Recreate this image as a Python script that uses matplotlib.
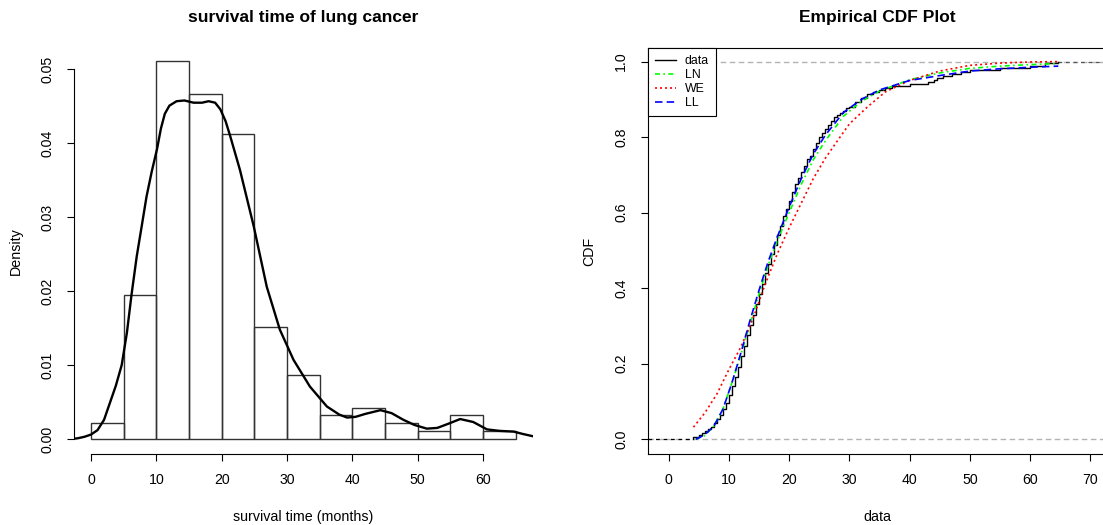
import matplotlib.pyplot as plt
from matplotlib.ticker import FormatStrFormatter

plt.rcParams['font.family'] = ['Liberation Sans', 'DejaVu Sans']

# histogram of survival time (density scale, 5-month bins)
bin_edges = [0, 5, 10, 15, 20, 25, 30, 35, 40, 45, 50, 55, 60, 65]
bin_density = [0.0022, 0.0195, 0.0511, 0.0467, 0.0412, 0.0152, 0.0087,
               0.0032, 0.0042, 0.0022, 0.0011, 0.0032, 0.0011]

# kernel density curve
kde_x = [-3.0, -2.0, -1.0, 0.0, 1.0, 2.0, 2.9, 3.8, 4.7, 5.5, 6.2, 7.0, 7.8, 8.5,
         9.3, 10.1, 10.7, 11.3, 12.0, 13.1, 14.3, 15.7, 17.0, 18.0, 19.0, 19.8,
         20.6, 21.3, 22.8, 24.9, 26.9, 28.9, 31.0, 33.5, 36.1, 38.0, 39.2, 40.5,
         42.0, 44.3, 46.0, 47.8, 49.5, 51.4, 53.0, 54.8, 56.5, 58.5, 60.6, 62.5,
         64.7, 66.0, 68.0]
kde_y = [0.0, 0.0001, 0.0003, 0.0006, 0.0012, 0.0026, 0.0049, 0.0072, 0.0100,
         0.0144, 0.0195, 0.0247, 0.0290, 0.0328, 0.0362, 0.0392, 0.0420, 0.0440,
         0.0451, 0.0457, 0.0458, 0.0455, 0.0455, 0.0457, 0.0455, 0.0446, 0.0430,
         0.0410, 0.0364, 0.0288, 0.0206, 0.0148, 0.0107, 0.0071, 0.0044, 0.0033,
         0.0029, 0.0030, 0.0034, 0.0039, 0.0035, 0.0026, 0.0019, 0.0014, 0.0015,
         0.0021, 0.0027, 0.0023, 0.0013, 0.0011, 0.0010, 0.0007, 0.0003]

# empirical cdf steps
ecdf_x = [4.0, 5.0, 5.5, 6.0, 6.5, 7.0, 7.5, 8.0, 8.5, 9.0, 9.5, 10.0, 10.5, 11.0,
          11.5, 12.0, 12.5, 13.0, 13.5, 14.0, 14.5, 15.0, 15.5, 16.0, 16.5, 17.0,
          17.5, 18.0, 18.5, 19.0, 19.5, 20.0, 20.5, 21.0, 21.5, 22.0, 22.5, 23.0,
          23.5, 24.0, 24.5, 25.0, 25.5, 26.0, 26.5, 27.0, 27.5, 28.0, 28.5, 29.0,
          29.5, 30.0, 31.0, 32.0, 33.0, 34.0, 35.0, 36.0, 37.0, 40.0, 43.0, 44.0,
          44.5, 45.5, 47.0, 48.5, 50.0, 55.0, 60.0, 62.5, 64.7]
ecdf_y = [0.005, 0.011, 0.016, 0.022, 0.027, 0.033, 0.043, 0.054, 0.065, 0.080,
          0.097, 0.118, 0.140, 0.165, 0.192, 0.220, 0.248, 0.275, 0.302, 0.330,
          0.357, 0.385, 0.412, 0.440, 0.465, 0.490, 0.515, 0.540, 0.565, 0.590,
          0.611, 0.632, 0.654, 0.676, 0.692, 0.708, 0.724, 0.741, 0.751, 0.768,
          0.784, 0.800, 0.811, 0.822, 0.832, 0.843, 0.854, 0.859, 0.865, 0.870,
          0.876, 0.881, 0.892, 0.903, 0.914, 0.919, 0.924, 0.930, 0.935, 0.941,
          0.946, 0.951, 0.957, 0.962, 0.968, 0.973, 0.978, 0.984, 0.989, 0.995, 1.0]

# fitted cdfs
fit_x = [4.5, 6, 7.5, 9, 10.5, 12, 13.5, 15, 16.5, 18, 20, 22, 24, 26, 29, 32, 35,
         40, 45, 50, 55, 60, 64.7]
ln_y = [0.0, 0.01, 0.035, 0.08, 0.15, 0.225, 0.305, 0.385, 0.46, 0.525, 0.60, 0.675,
        0.74, 0.79, 0.855, 0.895, 0.922, 0.952, 0.970, 0.982, 0.988, 0.992, 0.995]
ll_y = [0.0, 0.012, 0.035, 0.08, 0.15, 0.23, 0.315, 0.395, 0.47, 0.535, 0.615, 0.69,
        0.755, 0.805, 0.865, 0.90, 0.925, 0.95, 0.963, 0.975, 0.981, 0.985, 0.988]
we_x = [4.1, 6, 8, 10, 12, 14, 16, 18, 20, 22, 24, 26, 28, 30, 33, 36, 40, 45, 50,
        55, 60, 64.7]
we_y = [0.032, 0.07, 0.12, 0.185, 0.245, 0.32, 0.41, 0.49, 0.56, 0.625, 0.69, 0.744,
        0.79, 0.835, 0.88, 0.92, 0.95, 0.975, 0.99, 0.996, 0.999, 1.0]

W, H = 1103, 525
fig = plt.figure(figsize=(W / 100, H / 100), dpi=100)

tick_kw = dict(direction='out', length=5, width=0.8, pad=9, labelsize=10.2)

# ---- left: histogram
ax1 = fig.add_axes([74 / W, 1 - 454 / H, 458.5 / W, 406 / H])
ax1.bar(bin_edges[:-1], bin_density, width=5, align='edge', fill=False,
        edgecolor='#333333', linewidth=1)
ax1.plot(kde_x, kde_y, color='black', lw=1.7)
ax1.set_xlim(-2.6, 67.57)
ax1.set_ylim(-0.00203, 0.0529)
for s in ['top', 'right']:
    ax1.spines[s].set_visible(False)
ax1.spines['left'].set_bounds(0, 0.05)
ax1.spines['bottom'].set_bounds(0, 60)
for s in ['left', 'bottom']:
    ax1.spines[s].set_linewidth(0.8)
ax1.set_xticks(range(0, 61, 10))
ax1.set_yticks([0, 0.01, 0.02, 0.03, 0.04, 0.05])
ax1.yaxis.set_major_formatter(FormatStrFormatter('%.2f'))
ax1.tick_params(**tick_kw)
ax1.tick_params(axis='y', labelrotation=90)
plt.setp(ax1.get_yticklabels(), va='center')
ax1.set_title('survival time of lung cancer', fontsize=12.5, fontweight='bold', pad=19)
ax1.set_xlabel('survival time (months)', fontsize=10.3, labelpad=16)
ax1.set_ylabel('Density', fontsize=10.3, labelpad=13)

# ---- right: empirical cdf
ax2 = fig.add_axes([647.7 / W, 1 - 454 / H, 458.5 / W, 406 / H])
xl, xr = -3.5, 72.66
ax2.set_xlim(xl, xr)
ax2.set_ylim(-0.039, 1.036)
gray_dash = (0, (4, 2.5))
ax2.axhline(0, color='#B3B3B3', lw=1, ls=gray_dash, zorder=1)
ax2.axhline(1, color='#B3B3B3', lw=1, ls=gray_dash, zorder=1)
ax2.plot([xl, ecdf_x[0]], [0, 0], color='black', lw=0.9, ls=(0, (3, 3)), zorder=2)
ax2.plot([ecdf_x[-1], xr], [1, 1], color='#555555', lw=0.9, ls=(0, (3, 3)), zorder=2)
h_data, = ax2.step([ecdf_x[0]] + ecdf_x, [0.0] + ecdf_y, where='post',
                   color='black', lw=1.0, zorder=3)
h_ln, = ax2.plot(fit_x, ln_y, color='#00FF00', lw=1.2, ls=(0, (3, 2, 1, 2)), zorder=4)
h_we, = ax2.plot(we_x, we_y, color='#FF0000', lw=1.2, ls=(0, (1.2, 1.8)), zorder=4)
h_ll, = ax2.plot(fit_x, ll_y, color='#0000FF', lw=1.2, ls=(0, (4.5, 2.5)), zorder=5)
for s in ax2.spines.values():
    s.set_linewidth(0.8)
ax2.set_xticks(range(0, 71, 10))
ax2.set_yticks([0, 0.2, 0.4, 0.6, 0.8, 1.0])
ax2.yaxis.set_major_formatter(FormatStrFormatter('%.1f'))
ax2.tick_params(**tick_kw)
ax2.tick_params(axis='y', labelrotation=90)
plt.setp(ax2.get_yticklabels(), va='center')
ax2.set_title('Empirical CDF Plot', fontsize=12.5, fontweight='bold', pad=19)
ax2.set_xlabel('data', fontsize=10.3, labelpad=16)
ax2.set_ylabel('CDF', fontsize=10.3, labelpad=13)
leg = ax2.legend([h_data, h_ln, h_we, h_ll], ['data', 'LN', 'WE', 'LL'],
                 loc='upper left', bbox_to_anchor=(0, 1), borderaxespad=0,
                 fancybox=False, edgecolor='black', framealpha=1, fontsize=8.9,
                 handlelength=1.7, handletextpad=0.7, labelspacing=0.15, borderpad=0.6)
leg.get_frame().set_linewidth(0.8)

fig.savefig('out.png', dpi=100)
